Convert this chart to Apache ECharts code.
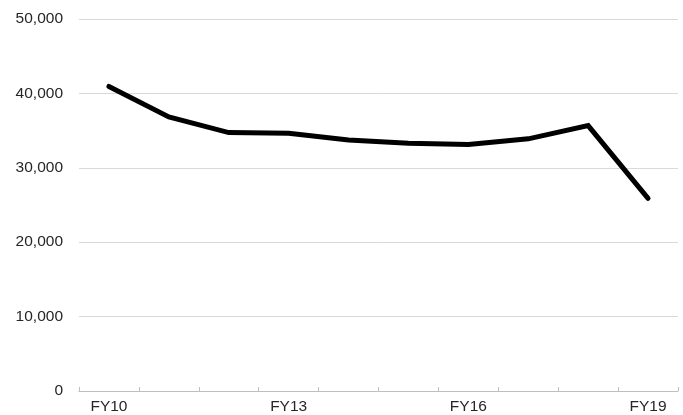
<!DOCTYPE html>
<html>
<head>
<meta charset="utf-8">
<script src="https://cdn.jsdelivr.net/npm/echarts@6/dist/echarts.min.js"></script>
<style>
  html, body { margin: 0; padding: 0; background: #ffffff; }
  #chart { width: 683px; height: 415px; }
</style>
</head>
<body>
<div id="chart"></div>
<script>
const categories = ['FY10', 'FY11', 'FY12', 'FY13', 'FY14', 'FY15', 'FY16', 'FY17', 'FY18', 'FY19'];
const values = [40940, 36840, 34730, 34640, 33730, 33300, 33120, 33890, 35670, 25890];
const yMin = 0;
const yMax = 50000;
const yInterval = 10000;

const chart = echarts.init(document.getElementById('chart'), null, { renderer: 'canvas' });
chart.setOption({
  animation: false,
  backgroundColor: '#ffffff',
  grid: { left: 79, right: 5, top: 19, bottom: 24, containLabel: false },
  xAxis: {
    type: 'category',
    data: categories,
    boundaryGap: true,
    axisLine: { show: true, lineStyle: { color: '#bfbfbf', width: 1 } },
    axisTick: { show: true, inside: true, length: 4, interval: 0, alignWithLabel: false, lineStyle: { color: '#bfbfbf' } },
    axisLabel: {
      interval: 2,
      margin: 8,
      color: '#262626',
      fontFamily: 'Liberation Sans, Arial, sans-serif',
      fontSize: 15.5
    },
    splitLine: { show: false }
  },
  yAxis: {
    type: 'value',
    min: yMin,
    max: yMax,
    interval: yInterval,
    axisLine: { show: false },
    axisTick: { show: false },
    axisLabel: {
      margin: 16,
      color: '#262626',
      fontFamily: 'Liberation Sans, Arial, sans-serif',
      fontSize: 15.5,
      formatter: function (v) { return v.toLocaleString('en-US'); }
    },
    splitLine: { show: true, lineStyle: { color: '#d9d9d9', width: 1 } }
  },
  series: [{
    type: 'line',
    data: values,
    showSymbol: false,
    symbol: 'none',
    lineStyle: { color: '#000000', width: 5, cap: 'round', join: 'miter' },
    itemStyle: { color: '#000000' }
  }]
});
</script>
</body>
</html>
